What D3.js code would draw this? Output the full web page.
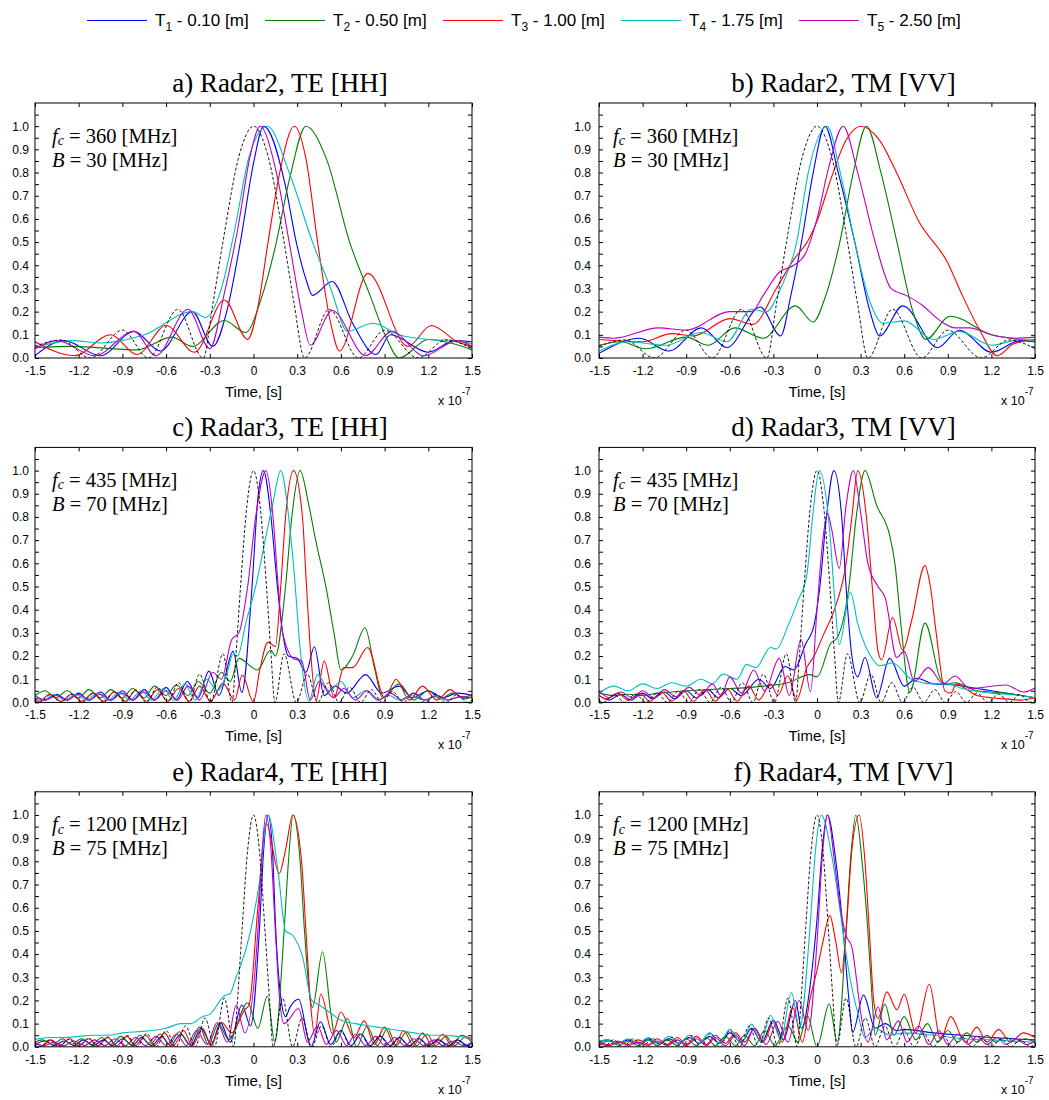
<!DOCTYPE html>
<html><head><meta charset="utf-8">
<script src="https://cdn.jsdelivr.net/npm/d3@7"></script>
<style>body{margin:0;background:#fff}svg{display:block}</style>
</head><body>
<svg id="chart" width="1049" height="1100"></svg>
<script>
// ---------- labels / ticks ----------
const seriesNames = ["1","2","3","4","5"];
const seriesDepths = ["0.10","0.50","1.00","1.75","2.50"];
const seriesColors = ["#0000ff","#008000","#ff0000","#00bfbf","#bf00bf"];
const panelTitles = ["a) Radar2, TE [HH]","b) Radar2, TM [VV]","c) Radar3, TE [HH]","d) Radar3, TM [VV]","e) Radar4, TE [HH]","f) Radar4, TM [VV]"];
const panelFc = ["360","360","435","435","1200","1200"];
const panelB = ["30","30","70","70","75","75"];
const xTickVals = [-1.5,-1.2,-0.9,-0.6,-0.3,0,0.3,0.6,0.9,1.2,1.5];
const xTickLabels = ["-1.5","-1.2","-0.9","-0.6","-0.3","0","0.3","0.6","0.9","1.2","1.5"];
const yTickVals = [0,0.1,0.2,0.3,0.4,0.5,0.6,0.7,0.8,0.9,1.0];
const yTickLabels = ["0.0","0.1","0.2","0.3","0.4","0.5","0.6","0.7","0.8","0.9","1.0"];
const yMinorVals = [0,0.05,0.1,0.15,0.2,0.25,0.3,0.35,0.4,0.45,0.5,0.55,0.6,0.65,0.7,0.75,0.8,0.85,0.9,0.95,1.0,1.05];

// ---------- reference pulses (black dashed) ----------
const ref30 = [[-1.5,0.05],[-1.32,0.078],[-1.12,0],[-0.9,0.12],[-0.72,0],[-0.52,0.21],[-0.345,0],[-0.28,0.23],[-0.21,0.5],[-0.1,0.87],[0,1],[0.1,0.87],[0.21,0.5],[0.28,0.23],[0.35,0],[0.52,0.21],[0.72,0],[0.9,0.12],[1.13,0],[1.32,0.078],[1.5,0.04]];
const ref70 = [[-1.5,0.01],[-1.47,0],[-1.395,0.033],[-1.323,0],[-1.25,0.036],[-1.176,0],[-1.1,0.04],[-1.029,0],[-0.955,0.047],[-0.882,0],[-0.81,0.055],[-0.735,0],[-0.66,0.066],[-0.588,0],[-0.515,0.085],[-0.441,0],[-0.37,0.122],[-0.294,0],[-0.21,0.21],[-0.147,0],[-0.12,0.21],[-0.09,0.49],[-0.045,0.85],[0,1],[0.045,0.85],[0.09,0.49],[0.12,0.21],[0.147,0],[0.21,0.21],[0.294,0],[0.37,0.122],[0.441,0],[0.515,0.085],[0.588,0],[0.66,0.066],[0.735,0],[0.81,0.055],[0.882,0],[0.955,0.047],[1.029,0],[1.1,0.04],[1.176,0],[1.25,0.036],[1.323,0],[1.395,0.033],[1.47,0],[1.5,0.01]];
const ref75 = [[-1.5,0.015],[-1.467,0],[-1.4,0.03],[-1.333,0],[-1.267,0.034],[-1.2,0],[-1.133,0.037],[-1.067,0],[-1.0,0.042],[-0.933,0],[-0.867,0.049],[-0.8,0],[-0.733,0.058],[-0.667,0],[-0.6,0.07],[-0.533,0],[-0.467,0.09],[-0.4,0],[-0.333,0.124],[-0.268,0],[-0.2,0.21],[-0.135,0],[-0.11,0.2],[-0.08,0.49],[-0.04,0.85],[0,1],[0.04,0.85],[0.08,0.49],[0.11,0.2],[0.135,0],[0.2,0.21],[0.268,0],[0.333,0.124],[0.4,0],[0.467,0.09],[0.533,0],[0.6,0.07],[0.667,0],[0.733,0.058],[0.8,0],[0.867,0.049],[0.933,0],[1.0,0.042],[1.067,0],[1.133,0.037],[1.2,0],[1.267,0.034],[1.333,0],[1.4,0.03],[1.467,0],[1.5,0.015]];

// ---------- panel a ----------
const a_T1 = [[-1.5,0.01],[-1.3,0.075],[-1.05,0.01],[-0.82,0.115],[-0.64,0.03],[-0.42,0.2],[-0.28,0.05],[-0.18,0.21],[-0.09,0.5],[0,0.84],[0.07,1],[0.22,0.74],[0.29,0.51],[0.36,0.34],[0.405,0.27],[0.54,0.33],[0.68,0.15],[0.84,0.015],[0.94,0.1],[1.2,0.025],[1.38,0.075],[1.5,0.07]];
const a_T2 = [[-1.5,0.045],[-1.25,0.05],[-0.8,0.035],[-0.56,0.09],[-0.42,0.05],[-0.2,0.162],[-0.054,0.11],[0.05,0.25],[0.15,0.48],[0.25,0.78],[0.36,1],[0.5,0.86],[0.66,0.5],[0.8,0.27],[0.91,0.09],[1.0,0],[1.2,0.08],[1.38,0.06],[1.5,0.035]];
const a_T3 = [[-1.5,0.07],[-1.23,0.01],[-0.98,0.1],[-0.8,0.015],[-0.6,0.14],[-0.405,0.025],[-0.2,0.25],[-0.04,0.08],[0.03,0.22],[0.1,0.5],[0.18,0.8],[0.28,1],[0.36,0.86],[0.44,0.5],[0.53,0.15],[0.59,0.03],[0.785,0.365],[1.06,0.05],[1.22,0.14],[1.4,0.07],[1.5,0.05]];
const a_T4 = [[-1.5,0.045],[-1.25,0.075],[-1.05,0.065],[-0.75,0.1],[-0.42,0.2],[-0.33,0.175],[-0.22,0.3],[-0.13,0.55],[-0.03,0.87],[0.095,1],[0.245,0.8],[0.405,0.5],[0.53,0.3],[0.645,0.115],[0.82,0.15],[1.0,0.1],[1.2,0.08],[1.4,0.075],[1.5,0.06]];
const a_T5 = [[-1.5,0.04],[-1.35,0.075],[-1.09,0.01],[-0.82,0.115],[-0.67,0.01],[-0.45,0.21],[-0.3,0.04],[-0.2,0.28],[-0.11,0.55],[-0.02,0.88],[0.045,1],[0.15,0.82],[0.245,0.5],[0.33,0.2],[0.39,0.055],[0.54,0.205],[0.77,0.01],[0.95,0.115],[1.17,0.01],[1.4,0.075],[1.5,0.05]];

// ---------- panel b ----------
const b_T1 = [[-1.5,0.02],[-1.22,0.085],[-1.02,0.03],[-0.795,0.13],[-0.62,0.045],[-0.39,0.22],[-0.25,0.095],[-0.18,0.27],[-0.107,0.5],[-0.026,0.8],[0.055,1],[0.146,0.8],[0.26,0.5],[0.365,0.2],[0.43,0.095],[0.59,0.225],[0.83,0.045],[0.98,0.12],[1.2,0.025],[1.4,0.075],[1.5,0.07]];
const b_T2 = [[-1.5,0.055],[-1.35,0.07],[-1.18,0.04],[-0.9,0.09],[-0.75,0.055],[-0.566,0.13],[-0.37,0.085],[-0.148,0.225],[-0.026,0.155],[0.05,0.25],[0.157,0.5],[0.25,0.8],[0.34,1],[0.44,0.8],[0.55,0.5],[0.66,0.2],[0.75,0.08],[0.915,0.18],[1.2,0.1],[1.4,0.08],[1.5,0.07]];
const b_T3 = [[-1.5,0.08],[-1.2,0.07],[-1.0,0.105],[-0.85,0.095],[-0.6,0.17],[-0.44,0.145],[-0.28,0.3],[-0.165,0.42],[-0.05,0.52],[0,0.59],[0.1,0.78],[0.2,0.94],[0.3,1],[0.43,0.94],[0.547,0.8],[0.7,0.59],[0.9,0.41],[1.0,0.27],[1.12,0.12],[1.24,0.01],[1.35,0.06],[1.5,0.08]];
const b_T4 = [[-1.5,0.03],[-1.3,0.07],[-1.04,0.055],[-0.8,0.11],[-0.62,0.07],[-0.45,0.21],[-0.35,0.2],[-0.25,0.3],[-0.14,0.5],[-0.06,0.8],[0.07,1],[0.16,0.8],[0.26,0.5],[0.36,0.25],[0.455,0.15],[0.6,0.16],[0.8,0.08],[0.98,0.115],[1.2,0.055],[1.4,0.08],[1.5,0.075]];
const b_T5 = [[-1.5,0.09],[-1.4,0.085],[-1.09,0.13],[-0.9,0.12],[-0.6,0.2],[-0.45,0.2],[-0.37,0.27],[-0.26,0.37],[-0.16,0.4],[-0.08,0.45],[0,0.6],[0.08,0.82],[0.18,1],[0.28,0.8],[0.4,0.5],[0.51,0.3],[0.62,0.268],[0.72,0.23],[0.85,0.16],[0.95,0.13],[1.05,0.13],[1.2,0.1],[1.35,0.085],[1.5,0.09]];

// ---------- panel c ----------
const c_T1 = [[-1.5,0.03],[-1.43,0.01],[-1.35,0.035],[-1.28,0.01],[-1.2,0.04],[-1.13,0.01],[-1.05,0.045],[-0.98,0.01],[-0.9,0.05],[-0.83,0.01],[-0.75,0.055],[-0.68,0.01],[-0.6,0.065],[-0.53,0.01],[-0.455,0.09],[-0.38,0.02],[-0.306,0.135],[-0.237,0.03],[-0.14,0.22],[-0.08,0.043],[-0.01,0.5],[0.03,0.88],[0.068,1],[0.12,0.8],[0.164,0.5],[0.2,0.3],[0.24,0.2],[0.3,0.19],[0.36,0.13],[0.418,0.24],[0.485,0.03],[0.56,0.07],[0.64,0.04],[0.77,0.12],[0.88,0.04],[1.0,0.07],[1.09,0.02],[1.2,0.05],[1.3,0.02],[1.4,0.04],[1.5,0.03]];
const c_T2 = [[-1.5,0.03],[-1.43,0.05],[-1.36,0.02],[-1.28,0.05],[-1.2,0.02],[-1.13,0.055],[-1.05,0.02],[-0.98,0.055],[-0.9,0.02],[-0.83,0.06],[-0.75,0.02],[-0.68,0.07],[-0.6,0.03],[-0.53,0.075],[-0.45,0.03],[-0.38,0.09],[-0.3,0.04],[-0.22,0.13],[-0.16,0.09],[-0.1,0.19],[0.026,0.14],[0.118,0.226],[0.15,0.2],[0.22,0.5],[0.263,0.8],[0.32,1],[0.38,0.85],[0.43,0.69],[0.5,0.49],[0.555,0.29],[0.6,0.14],[0.68,0.2],[0.766,0.322],[0.83,0.15],[0.887,0.02],[1.0,0.08],[1.1,0.01],[1.2,0.05],[1.28,0.015],[1.37,0.04],[1.45,0.015],[1.5,0.025]];
const c_T3 = [[-1.5,0.02],[-1.47,0.005],[-1.4,0.035],[-1.32,0.005],[-1.25,0.035],[-1.18,0.005],[-1.1,0.04],[-1.03,0.005],[-0.955,0.045],[-0.88,0.005],[-0.81,0.05],[-0.735,0.005],[-0.66,0.055],[-0.59,0.005],[-0.515,0.06],[-0.44,0.005],[-0.37,0.07],[-0.295,0.005],[-0.21,0.082],[-0.13,0.01],[-0.077,0.118],[0,0.0],[0.04,0.13],[0.1,0.26],[0.15,0.24],[0.187,0.5],[0.22,0.8],[0.275,1],[0.336,0.8],[0.364,0.5],[0.394,0.2],[0.43,0.01],[0.485,0.178],[0.554,0.02],[0.62,0.15],[0.68,0.15],[0.784,0.237],[0.9,0.02],[0.98,0.1],[1.07,0.01],[1.16,0.07],[1.26,0.01],[1.35,0.055],[1.43,0.02],[1.5,0.035]];
const c_T4 = [[-1.5,0.03],[-1.44,0.01],[-1.37,0.035],[-1.3,0.01],[-1.22,0.035],[-1.15,0.01],[-1.07,0.04],[-1.0,0.01],[-0.92,0.045],[-0.85,0.01],[-0.77,0.05],[-0.7,0.01],[-0.62,0.06],[-0.55,0.01],[-0.47,0.08],[-0.4,0.01],[-0.32,0.1],[-0.25,0.05],[-0.18,0.13],[-0.14,0.21],[-0.11,0.2],[-0.05,0.35],[0.015,0.5],[0.08,0.7],[0.13,0.85],[0.187,1],[0.245,0.78],[0.275,0.59],[0.325,0.2],[0.38,0.005],[0.44,0.12],[0.52,0.05],[0.6,0.09],[0.68,0.02],[0.77,0.05],[0.85,0.01],[0.93,0.03],[1.0,0.01],[1.08,0.03],[1.17,0.01],[1.25,0.025],[1.33,0.01],[1.42,0.025],[1.5,0.02]];
const c_T5 = [[-1.5,0.02],[-1.43,0.01],[-1.35,0.03],[-1.28,0.01],[-1.2,0.035],[-1.13,0.01],[-1.05,0.035],[-0.98,0.01],[-0.9,0.04],[-0.83,0.01],[-0.75,0.045],[-0.68,0.01],[-0.6,0.05],[-0.52,0.01],[-0.45,0.07],[-0.37,0.01],[-0.28,0.13],[-0.22,0.1],[-0.15,0.27],[-0.1,0.3],[-0.04,0.5],[0.015,0.8],[0.085,1],[0.134,0.8],[0.17,0.5],[0.2,0.3],[0.28,0.187],[0.33,0.18],[0.39,0.01],[0.45,0.09],[0.55,0.02],[0.62,0.06],[0.7,0.01],[0.78,0.05],[0.86,0.01],[0.94,0.04],[1.02,0.01],[1.1,0.04],[1.18,0.01],[1.26,0.03],[1.34,0.01],[1.42,0.025],[1.5,0.02]];

// ---------- panel d ----------
const d_T1 = [[-1.5,0.03],[-1.43,0.01],[-1.35,0.035],[-1.28,0.01],[-1.2,0.04],[-1.13,0.015],[-1.05,0.045],[-0.98,0.015],[-0.9,0.05],[-0.83,0.02],[-0.75,0.055],[-0.68,0.02],[-0.6,0.06],[-0.52,0.03],[-0.4,0.1],[-0.32,0.06],[-0.22,0.155],[-0.16,0.14],[-0.08,0.25],[-0.02,0.334],[0.02,0.5],[0.065,0.8],[0.116,1],[0.17,0.8],[0.2,0.5],[0.24,0.2],[0.28,0.11],[0.33,0.194],[0.41,0.02],[0.5,0.19],[0.6,0.07],[0.685,0.104],[0.8,0.08],[0.95,0.075],[1.1,0.06],[1.2,0.05],[1.35,0.035],[1.5,0.02]];
const d_T2 = [[-1.5,0.04],[-1.4,0.03],[-1.3,0.035],[-1.2,0.03],[-1.1,0.04],[-1.0,0.045],[-0.9,0.05],[-0.75,0.055],[-0.6,0.06],[-0.45,0.065],[-0.3,0.075],[-0.2,0.085],[-0.05,0.12],[0.0,0.11],[0.095,0.255],[0.14,0.28],[0.22,0.5],[0.27,0.8],[0.33,1],[0.41,0.85],[0.5,0.72],[0.536,0.6],[0.58,0.32],[0.639,0.043],[0.743,0.342],[0.85,0.1],[0.89,0.08],[0.95,0.085],[1.1,0.05],[1.3,0.04],[1.5,0.02]];
const d_T3 = [[-1.5,0.03],[-1.45,0.015],[-1.37,0.04],[-1.3,0.01],[-1.22,0.04],[-1.15,0.005],[-1.07,0.045],[-1.0,0.005],[-0.92,0.05],[-0.85,0.005],[-0.77,0.055],[-0.7,0.005],[-0.62,0.06],[-0.55,0.005],[-0.47,0.07],[-0.4,0.01],[-0.32,0.08],[-0.27,0.03],[-0.2,0.115],[-0.14,0.01],[-0.07,0.15],[-0.02,0.2],[0.05,0.3],[0.12,0.4],[0.2,0.6],[0.24,0.8],[0.28,1],[0.34,0.8],[0.38,0.5],[0.42,0.22],[0.445,0.183],[0.52,0.366],[0.59,0.226],[0.65,0.35],[0.743,0.59],[0.78,0.5],[0.82,0.3],[0.88,0.05],[0.92,0.04],[0.96,0.08],[1.02,0.06],[1.1,0.03],[1.2,0.02],[1.3,0.015],[1.4,0.01],[1.5,0.02]];
const d_T4 = [[-1.5,0.04],[-1.4,0.07],[-1.3,0.05],[-1.2,0.08],[-1.1,0.06],[-1.0,0.085],[-0.9,0.07],[-0.8,0.1],[-0.72,0.08],[-0.646,0.122],[-0.55,0.1],[-0.485,0.164],[-0.42,0.15],[-0.32,0.237],[-0.28,0.23],[-0.2,0.33],[-0.13,0.44],[-0.07,0.55],[-0.03,0.8],[0.015,1],[0.09,0.72],[0.12,0.46],[0.153,0.25],[0.23,0.475],[0.28,0.34],[0.36,0.21],[0.433,0.158],[0.52,0.17],[0.65,0.1],[0.8,0.08],[0.9,0.08],[1.0,0.06],[1.2,0.04],[1.4,0.03],[1.5,0.02]];
const d_T5 = [[-1.5,0.05],[-1.43,0.02],[-1.35,0.045],[-1.27,0.02],[-1.2,0.05],[-1.12,0.02],[-1.05,0.055],[-0.97,0.025],[-0.88,0.065],[-0.8,0.03],[-0.72,0.08],[-0.66,0.03],[-0.6,0.11],[-0.52,0.04],[-0.435,0.14],[-0.36,0.05],[-0.26,0.19],[-0.19,0.03],[-0.11,0.272],[-0.045,0.046],[0.0,0.4],[0.04,0.7],[0.072,0.816],[0.1,0.75],[0.153,0.578],[0.2,0.85],[0.25,1],[0.3,0.82],[0.35,0.6],[0.42,0.5],[0.47,0.45],[0.548,0.194],[0.6,0.22],[0.67,0.09],[0.766,0.15],[0.87,0.08],[0.95,0.114],[1.05,0.06],[1.3,0.075],[1.42,0.045],[1.5,0.062]];

// ---------- panel e ----------
const e_T1 = [[-1.5,0.01],[-1.43,0.025],[-1.37,0.005],[-1.3,0.025],[-1.23,0.005],[-1.17,0.03],[-1.1,0.005],[-1.03,0.03],[-0.97,0.005],[-0.9,0.035],[-0.83,0.005],[-0.77,0.04],[-0.7,0.005],[-0.63,0.045],[-0.57,0.005],[-0.5,0.055],[-0.43,0.005],[-0.36,0.08],[-0.29,0.01],[-0.226,0.103],[-0.16,0.02],[-0.08,0.18],[-0.02,0.09],[0.04,0.5],[0.07,0.85],[0.1,1],[0.13,0.85],[0.153,0.5],[0.19,0.2],[0.22,0.13],[0.25,0.17],[0.31,0.205],[0.394,0.0],[0.46,0.108],[0.53,0.01],[0.6,0.07],[0.67,0.005],[0.74,0.055],[0.8,0.005],[0.87,0.045],[0.94,0.005],[1.0,0.04],[1.07,0.005],[1.14,0.035],[1.2,0.005],[1.27,0.03],[1.34,0.005],[1.4,0.03],[1.47,0.005],[1.5,0.02]];
const e_T2 = [[-1.5,0.02],[-1.45,0.03],[-1.38,0.01],[-1.31,0.035],[-1.25,0.01],[-1.18,0.035],[-1.11,0.01],[-1.04,0.04],[-0.98,0.01],[-0.91,0.045],[-0.84,0.01],[-0.78,0.05],[-0.71,0.01],[-0.64,0.055],[-0.58,0.01],[-0.51,0.065],[-0.44,0.01],[-0.37,0.085],[-0.31,0.01],[-0.24,0.1],[-0.17,0.03],[-0.04,0.19],[0.03,0.08],[0.095,0.218],[0.146,0.02],[0.21,0.5],[0.24,0.8],[0.272,1],[0.32,0.8],[0.35,0.5],[0.39,0.2],[0.405,0.17],[0.474,0.41],[0.53,0.15],[0.566,0.02],[0.646,0.122],[0.708,0.0],[0.78,0.09],[0.85,0.005],[0.92,0.08],[0.98,0.005],[1.05,0.065],[1.12,0.005],[1.19,0.055],[1.25,0.005],[1.32,0.045],[1.38,0.005],[1.45,0.04],[1.5,0.02]];
const e_T3 = [[-1.5,0.02],[-1.45,0.005],[-1.39,0.03],[-1.33,0.005],[-1.26,0.035],[-1.2,0.005],[-1.13,0.035],[-1.07,0.005],[-1.0,0.04],[-0.94,0.005],[-0.87,0.045],[-0.81,0.005],[-0.74,0.05],[-0.68,0.005],[-0.61,0.06],[-0.55,0.005],[-0.48,0.07],[-0.42,0.005],[-0.35,0.08],[-0.29,0.005],[-0.22,0.105],[-0.15,0.06],[-0.06,0.16],[-0.03,0.18],[0.03,0.6],[0.088,0.963],[0.176,0.747],[0.22,0.85],[0.27,1],[0.33,0.8],[0.36,0.5],[0.39,0.2],[0.42,0.05],[0.462,0.227],[0.543,0.057],[0.6,0.15],[0.69,0.04],[0.76,0.112],[0.83,0.01],[0.9,0.085],[0.97,0.005],[1.03,0.07],[1.1,0.005],[1.16,0.06],[1.23,0.005],[1.3,0.055],[1.36,0.005],[1.43,0.05],[1.5,0.03]];
const e_T4 = [[-1.5,0.032],[-1.4,0.04],[-1.3,0.04],[-1.2,0.045],[-1.1,0.05],[-1.0,0.05],[-0.9,0.06],[-0.8,0.065],[-0.7,0.07],[-0.6,0.08],[-0.5,0.1],[-0.43,0.1],[-0.35,0.13],[-0.3,0.14],[-0.2,0.22],[-0.16,0.23],[-0.12,0.3],[-0.088,0.35],[-0.02,0.5],[0.038,0.7],[0.1,1],[0.17,0.75],[0.22,0.5],[0.27,0.48],[0.336,0.39],[0.4,0.2],[0.45,0.18],[0.52,0.15],[0.6,0.115],[0.7,0.1],[0.8,0.09],[0.9,0.08],[1.0,0.07],[1.1,0.06],[1.2,0.05],[1.3,0.05],[1.4,0.045],[1.5,0.04]];
const e_T5 = [[-1.5,0.015],[-1.44,0.005],[-1.37,0.02],[-1.3,0.005],[-1.23,0.025],[-1.16,0.005],[-1.09,0.03],[-1.02,0.005],[-0.95,0.035],[-0.88,0.005],[-0.81,0.04],[-0.74,0.005],[-0.67,0.045],[-0.6,0.005],[-0.53,0.055],[-0.46,0.005],[-0.39,0.07],[-0.32,0.01],[-0.25,0.105],[-0.18,0.02],[-0.118,0.18],[-0.06,0.06],[0.03,0.5],[0.06,0.85],[0.085,1],[0.12,0.85],[0.15,0.5],[0.18,0.2],[0.21,0.1],[0.31,0.165],[0.37,0.02],[0.44,0.09],[0.5,0.01],[0.57,0.07],[0.64,0.005],[0.7,0.055],[0.77,0.005],[0.84,0.045],[0.9,0.005],[0.97,0.04],[1.04,0.005],[1.1,0.035],[1.17,0.005],[1.24,0.03],[1.3,0.005],[1.37,0.025],[1.44,0.005],[1.5,0.02]];

// ---------- panel f ----------
const f_T1 = [[-1.5,0.02],[-1.44,0.03],[-1.37,0.015],[-1.3,0.03],[-1.23,0.015],[-1.16,0.035],[-1.09,0.015],[-1.02,0.035],[-0.95,0.015],[-0.88,0.04],[-0.81,0.015],[-0.74,0.045],[-0.67,0.015],[-0.6,0.06],[-0.52,0.02],[-0.45,0.08],[-0.38,0.02],[-0.3,0.115],[-0.23,0.03],[-0.148,0.2],[-0.107,0.08],[-0.04,0.3],[0.0,0.55],[0.04,0.88],[0.072,1],[0.13,0.8],[0.18,0.5],[0.22,0.2],[0.245,0.062],[0.32,0.223],[0.4,0.08],[0.47,0.1],[0.55,0.07],[0.6,0.075],[0.8,0.06],[1.0,0.05],[1.2,0.04],[1.5,0.03]];
const f_T2 = [[-1.5,0.01],[-1.43,0.025],[-1.36,0.005],[-1.3,0.025],[-1.23,0.005],[-1.16,0.03],[-1.1,0.005],[-1.03,0.03],[-0.96,0.005],[-0.9,0.035],[-0.83,0.005],[-0.76,0.04],[-0.7,0.005],[-0.63,0.045],[-0.56,0.005],[-0.5,0.05],[-0.43,0.005],[-0.36,0.07],[-0.29,0.005],[-0.2,0.09],[-0.13,0.02],[-0.065,0.132],[0.0,0.0],[0.084,0.185],[0.14,0.02],[0.2,0.5],[0.23,0.8],[0.267,1],[0.31,0.8],[0.35,0.5],[0.38,0.2],[0.4,0.05],[0.467,0.184],[0.53,0.05],[0.6,0.13],[0.68,0.03],[0.76,0.1],[0.83,0.02],[0.9,0.07],[0.97,0.02],[1.03,0.06],[1.1,0.02],[1.17,0.05],[1.23,0.02],[1.3,0.04],[1.37,0.02],[1.43,0.035],[1.5,0.02]];
const f_T3 = [[-1.5,0.02],[-1.43,0.01],[-1.37,0.025],[-1.3,0.01],[-1.23,0.03],[-1.16,0.01],[-1.1,0.035],[-1.03,0.01],[-0.96,0.04],[-0.9,0.01],[-0.83,0.045],[-0.76,0.01],[-0.7,0.05],[-0.63,0.015],[-0.56,0.06],[-0.5,0.02],[-0.43,0.08],[-0.37,0.02],[-0.3,0.105],[-0.24,0.02],[-0.168,0.17],[-0.1,0.02],[-0.05,0.2],[0.0,0.33],[0.04,0.45],[0.088,0.566],[0.13,0.45],[0.169,0.319],[0.2,0.5],[0.24,0.85],[0.29,1],[0.33,0.8],[0.36,0.5],[0.39,0.2],[0.42,0.122],[0.48,0.237],[0.55,0.16],[0.6,0.227],[0.68,0.06],[0.773,0.27],[0.85,0.03],[0.92,0.13],[1.02,0.02],[1.1,0.085],[1.17,0.02],[1.25,0.075],[1.33,0.02],[1.42,0.06],[1.5,0.04]];
const f_T4 = [[-1.5,0.025],[-1.44,0.03],[-1.37,0.015],[-1.3,0.035],[-1.23,0.015],[-1.16,0.04],[-1.09,0.015],[-1.02,0.045],[-0.95,0.015],[-0.88,0.05],[-0.81,0.015],[-0.74,0.06],[-0.67,0.015],[-0.6,0.075],[-0.52,0.015],[-0.45,0.098],[-0.385,0.02],[-0.32,0.136],[-0.25,0.03],[-0.176,0.234],[-0.12,0.08],[-0.05,0.5],[-0.01,0.85],[0.03,1],[0.1,0.83],[0.145,0.65],[0.18,0.49],[0.226,0.3],[0.283,0.14],[0.33,0.04],[0.4,0.08],[0.5,0.05],[0.6,0.06],[0.8,0.05],[1.0,0.035],[1.2,0.03],[1.5,0.02]];
const f_T5 = [[-1.5,0.015],[-1.43,0.005],[-1.36,0.02],[-1.3,0.005],[-1.23,0.02],[-1.16,0.005],[-1.1,0.025],[-1.03,0.005],[-0.96,0.03],[-0.9,0.005],[-0.83,0.035],[-0.76,0.005],[-0.7,0.04],[-0.63,0.005],[-0.56,0.05],[-0.5,0.005],[-0.43,0.08],[-0.35,0.01],[-0.27,0.11],[-0.2,0.02],[-0.123,0.2],[-0.06,0.07],[0.0,0.45],[0.04,0.85],[0.072,1],[0.12,0.8],[0.16,0.6],[0.2,0.48],[0.24,0.43],[0.27,0.3],[0.3,0.15],[0.35,0.02],[0.42,0.172],[0.48,0.03],[0.56,0.112],[0.62,0.02],[0.7,0.09],[0.77,0.01],[0.84,0.07],[0.9,0.01],[0.97,0.055],[1.04,0.01],[1.1,0.045],[1.17,0.01],[1.24,0.04],[1.3,0.01],[1.37,0.035],[1.44,0.01],[1.5,0.025]];

// ---------- build ----------
const panelSeries = [
  [a_T1,a_T2,a_T3,a_T4,a_T5,ref30],
  [b_T1,b_T2,b_T3,b_T4,b_T5,ref30],
  [c_T1,c_T2,c_T3,c_T4,c_T5,ref70],
  [d_T1,d_T2,d_T3,d_T4,d_T5,ref70],
  [e_T1,e_T2,e_T3,e_T4,e_T5,ref75],
  [f_T1,f_T2,f_T3,f_T4,f_T5,ref75]
];

const svg = d3.select('#chart');
const SANS = "'Liberation Sans', Arial, Helvetica, sans-serif";
const SERIF = "'Liberation Serif', 'Times New Roman', serif";

// legend
const legX = [87,265,443,621,799];
seriesNames.forEach((n,i)=>{
  const g = svg.append('g');
  g.append('line').attr('x1',legX[i]).attr('x2',legX[i]+60).attr('y1',20.5).attr('y2',20.5)
    .attr('stroke',seriesColors[i]).attr('stroke-width',1.2);
  const t = g.append('text').attr('x',legX[i]+68).attr('y',25.5)
    .attr('font-family',SANS).attr('font-size',17).attr('fill','#000');
  t.append('tspan').text('T');
  t.append('tspan').attr('font-size',12).attr('dy',5).text(n);
  t.append('tspan').attr('dy',-5).text(' - ' + seriesDepths[i] + ' [m]');
});

const cols = [{x0:35,x1:472,lab:6,ann:17},{x0:599,x1:1035,lab:8,ann:14}];
const rowTop = [103,447.4,791.8];
const rowH = 255;

panelSeries.forEach((series,i)=>{
  const c = cols[i%2];
  const top = rowTop[Math.floor(i/2)], bot = top+rowH;
  const x = d3.scaleLinear().domain([-1.5,1.5]).range([c.x0,c.x1]);
  const y = d3.scaleLinear().domain([0,1.1]).range([bot,top]);
  const g = svg.append('g');
  const cid = 'clip'+i;
  g.append('clipPath').attr('id',cid).append('rect')
    .attr('x',c.x0).attr('y',top).attr('width',c.x1-c.x0).attr('height',rowH);

  // axes
  const styleAxis = sel => { sel.select('.domain').remove();
    sel.selectAll('line').attr('stroke','#000').attr('stroke-width',1);
    sel.selectAll('text').attr('font-family',SANS).attr('font-size',12).attr('fill','#000'); };
  g.append('g').attr('transform',`translate(${c.x0},0)`)
    .call(d3.axisLeft(y).tickValues(yMinorVals).tickSize(-4).tickFormat(''))
    .call(styleAxis);
  g.append('g').attr('transform',`translate(${c.x1},0)`)
    .call(d3.axisRight(y).tickValues(yMinorVals).tickSize(-4).tickFormat(''))
    .call(styleAxis);
  g.append('g').attr('transform',`translate(${c.x0},0)`)
    .call(d3.axisLeft(y).tickValues(yTickVals).tickSize(0).tickPadding(c.lab)
      .tickFormat((d,k)=>yTickLabels[k]))
    .call(styleAxis);
  g.append('g').attr('transform',`translate(0,${bot})`)
    .call(d3.axisBottom(x).tickValues(xTickVals).tickSize(-4).tickPadding(8.5)
      .tickFormat((d,k)=>xTickLabels[k]))
    .call(styleAxis);
  g.append('g').attr('transform',`translate(0,${top})`)
    .call(d3.axisTop(x).tickValues(xTickVals).tickSize(-4).tickFormat(''))
    .call(styleAxis);

  // curves
  const line = d3.line().x(d=>x(d[0])).y(d=>y(d[1])).curve(d3.curveMonotoneX);
  const cg = g.append('g').attr('clip-path',`url(#${cid})`);
  series.forEach((s,k)=>{
    const p = cg.append('path').attr('d',line(s)).attr('fill','none');
    if (k<5) p.attr('stroke',seriesColors[k]).attr('stroke-width',1.1);
    else p.attr('stroke','#000').attr('stroke-width',0.9).attr('stroke-dasharray','3,2');
  });

  // frame
  g.append('rect').attr('x',c.x0).attr('y',top).attr('width',c.x1-c.x0).attr('height',rowH)
    .attr('fill','none').attr('stroke','#000').attr('stroke-width',1);

  // title
  const cx = (c.x0+c.x1)/2;
  g.append('text').attr('x',cx+26.5).attr('y',top-11).attr('text-anchor','middle')
    .attr('font-family',SERIF).attr('font-size',27).attr('fill','#000').text(panelTitles[i]);

  // annotation
  const a1 = g.append('text').attr('x',c.x0+c.ann).attr('y',top+39.5)
    .attr('font-family',SERIF).attr('font-size',20.5).attr('fill','#000');
  a1.append('tspan').attr('font-style','italic').text('f');
  a1.append('tspan').attr('font-style','italic').attr('font-size',14).attr('dy',2.5).text('c');
  a1.append('tspan').attr('dy',-2.5).text(' = ' + panelFc[i] + ' [MHz]');
  const a2 = g.append('text').attr('x',c.x0+c.ann).attr('y',top+63.5)
    .attr('font-family',SERIF).attr('font-size',20.5).attr('fill','#000');
  a2.append('tspan').attr('font-style','italic').text('B');
  a2.append('tspan').text(' = ' + panelB[i] + ' [MHz]');

  // axis label
  g.append('text').attr('x',cx).attr('y',bot+38.7).attr('text-anchor','middle')
    .attr('font-family',SANS).attr('font-size',15).attr('fill','#000').text('Time, [s]');
  const ex = g.append('text').attr('x',c.x1-34).attr('y',bot+47)
    .attr('font-family',SANS).attr('font-size',12.5).attr('fill','#000');
  ex.append('tspan').text('x 10');
  ex.append('tspan').attr('font-size',10).attr('dy',-10).text('-7');
});
</script>
</body></html>
